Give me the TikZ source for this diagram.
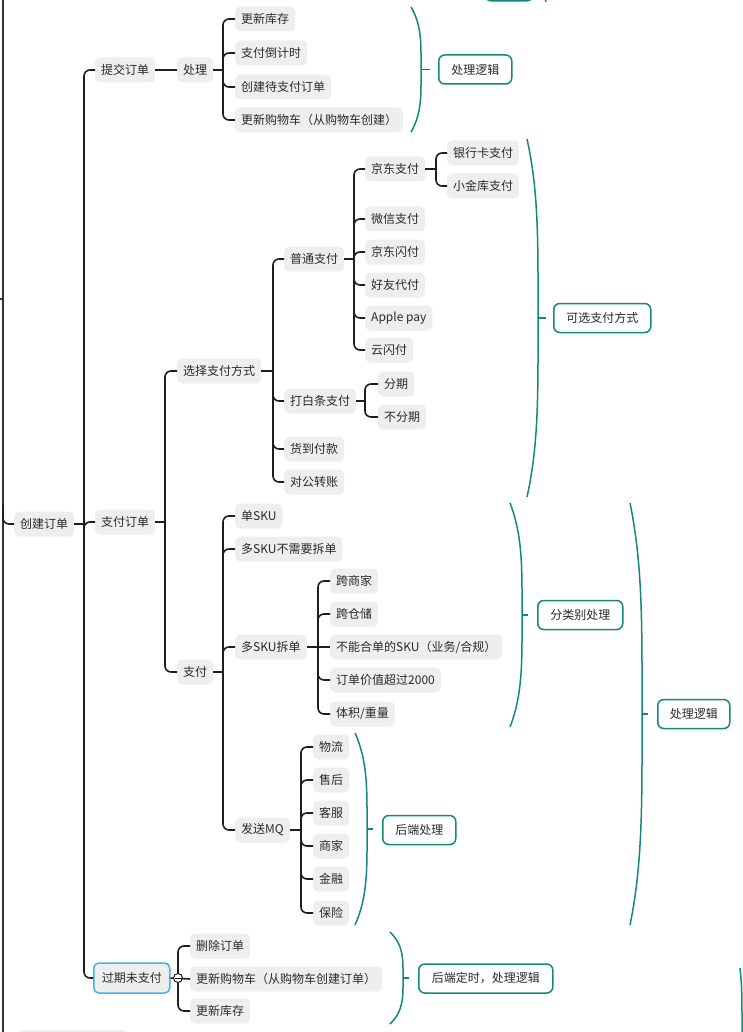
\documentclass[tikz,border=0pt]{standalone}
\usepackage{fontspec}
\setmainfont{Noto Sans CJK SC}
\definecolor{boxgray}{HTML}{EEEEEE}
\definecolor{tealc}{HTML}{12897B}
\definecolor{bluec}{HTML}{40B4F0}
\definecolor{txt}{HTML}{2A2A2A}
\definecolor{linec}{HTML}{1E1E1E}
\tikzset{
  topic/.style={fill=boxgray, rounded corners=5pt, anchor=west, inner xsep=6pt, inner ysep=0pt,
    minimum height=25pt, text=txt, font=\fontsize{12pt}{14pt}\selectfont},
  lbox/.style={draw=tealc, line width=1.5pt, fill=white, rounded corners=6pt, anchor=west,
    minimum height=29pt, inner xsep=0pt, inner ysep=0pt, text=txt, font=\fontsize{12pt}{14pt}\selectfont},
  conn/.style={draw=linec, line width=1.6pt, rounded corners=6pt},
  brace/.style={draw=tealc, line width=1.5pt},
}
\newcommand\fan[3]{%
  \draw[conn] (#1.east) -- (#1.east -| #2);
  \foreach \c in {#3} { \draw[conn] (#1.east -| #2) |- (\c.west); }
}
\newcommand\tbr[5]{% x0, ytop, ybot, xbulge, xtip
  \pgfmathsetmacro\hh{#3-#2}%
  \pgfmathsetmacro\ym{(#2+#3)/2}%
  \draw[brace] (#1,#2) .. controls ({#4+1},{#2+0.15*\hh}) and (#4,{#2+0.3*\hh}) .. (#4,\ym)
     .. controls (#4,{#3-0.3*\hh}) and ({#4+1},{#3-0.15*\hh}) .. (#1,#3);
  \draw[brace] (#4,\ym) -- (#5,\ym);
}
\begin{document}
\begin{tikzpicture}[x=1pt,y=-1pt]
\useasboundingbox (0,0) rectangle (742,1032);
% partial items at the edges
\draw[tealc, line width=1.5pt, fill=white, rounded corners=6pt] (485,-30) rectangle (533,0.8);
\draw[brace] (543,-8) .. controls (545,-2) .. (546,2);
\draw[brace] (740,968) .. controls (742,990) .. (742,1032);
\fill[boxgray, rounded corners=5pt] (18,1030) rectangle (128,1060);
\draw[linec!90, line width=1.5pt] (3,-2) -- (3,1034);
\draw[linec!90, line width=1.5pt] (0,299) -- (3,299);

% spine coordinates
\coordinate (s0) at (84,0);
\coordinate (sA) at (223,0);
\coordinate (sB) at (165,0);
\coordinate (sB0) at (273,0);
\coordinate (sB1) at (354,0);
\coordinate (sB11) at (436,0);
\coordinate (sB2) at (365,0);
\coordinate (sC) at (223,0);
\coordinate (sC3) at (318,0);
\coordinate (sC4) at (301,0);
\coordinate (sD) at (178,0);

% nodes
\node[topic] (root) at (14,524) {创建订单};
\node[topic] (n1) at (95,70) {提交订单};
\node[topic] (n2) at (95,522) {支付订单};
\node[topic, draw=bluec, line width=1.5pt, minimum width=76pt, minimum height=30pt] (n3) at (93,978) {过期未支付};

\node[topic] (a) at (177,70) {处理};
\node[topic] (a1) at (235,19) {更新库存};
\node[topic] (a2) at (235,53) {支付倒计时};
\node[topic] (a3) at (235,87) {创建待支付订单};
\node[topic] (a4) at (235,120) {更新购物车（从购物车创建）};

\node[topic] (b) at (177,371) {选择支付方式};
\node[topic] (b1) at (284,259) {普通支付};
\node[topic] (b2) at (284,401) {打白条支付};
\node[topic] (b3) at (284,449) {货到付款};
\node[topic] (b4) at (284,482) {对公转账};
\node[topic] (p1) at (365,169) {京东支付};
\node[topic] (p2) at (365,219) {微信支付};
\node[topic] (p3) at (365,252) {京东闪付};
\node[topic] (p4) at (365,285) {好友代付};
\node[topic] (p5) at (365,318) {Apple pay};
\node[topic] (p6) at (365,350) {云闪付};
\node[topic] (q1) at (447,153) {银行卡支付};
\node[topic] (q2) at (447,186) {小金库支付};
\node[topic] (r1) at (378,384) {分期};
\node[topic] (r2) at (378,417) {不分期};

\node[topic] (c) at (177,672) {支付};
\node[topic] (c1) at (235,516) {单SKU};
\node[topic] (c2) at (235,549) {多SKU不需要拆单};
\node[topic] (c3) at (235,647) {多SKU拆单};
\node[topic] (c4) at (235,830) {发送MQ};
\node[topic] (e1) at (330,581) {跨商家};
\node[topic] (e2) at (330,614) {跨仓储};
\node[topic] (e3) at (330,647) {不能合单的SKU（业务/合规）};
\node[topic] (e4) at (330,680) {订单价值超过2000};
\node[topic] (e5) at (330,714) {体积/重量};
\node[topic] (f1) at (313,747) {物流};
\node[topic] (f2) at (313,780) {售后};
\node[topic] (f3) at (313,813) {客服};
\node[topic] (f4) at (313,846) {商家};
\node[topic] (f5) at (313,879) {金融};
\node[topic] (f6) at (313,913) {保险};

\node[topic] (d1) at (190,946) {删除订单};
\node[topic] (d2) at (190,979) {更新购物车（从购物车创建订单）};
\node[topic] (d3) at (190,1011) {更新库存};

% connectors
\draw[conn] (3,505) |- (root.west);
\fan{root}{s0}{n1,n2,n3}
\draw[conn] (n1) -- (a);
\fan{a}{sA}{a1,a2,a3,a4}
\fan{n2}{sB}{b,c}
\fan{b}{sB0}{b1,b2,b3,b4}
\fan{b1}{sB1}{p1,p2,p3,p4,p5,p6}
\fan{p1}{sB11}{q1,q2}
\fan{b2}{sB2}{r1,r2}
\fan{c}{sC}{c1,c2,c3,c4}
\fan{c3}{sC3}{e1,e2,e4,e5}
\draw[conn] (c3) -- (e3);
\fan{c4}{sC4}{f1,f2,f3,f4,f5,f6}
\draw[conn] (n3.east) -- (d2.west);
\draw[conn] (n3.east -| sD) |- (d1.west);
\draw[conn] (n3.east -| sD) |- (d3.west);
\node[circle, draw=linec, fill=white, line width=1pt, inner sep=0pt, minimum size=9pt] (col) at (178,978) {};
\draw[linec, line width=1pt] (174.5,978) -- (181.5,978);

% summary braces and labels
\tbr{411}{7}{132}{421}{430}
\node[lbox, minimum width=73pt] (L1) at (438,69.5) {处理逻辑};
\tbr{527}{139}{497}{538}{546}
\node[lbox, minimum width=97pt] (L2) at (553,318) {可选支付方式};
\tbr{510}{503}{727}{522}{528}
\node[lbox, minimum width=85pt] (L3) at (537,615) {分类别处理};
\tbr{630}{503}{925}{642}{648}
\node[lbox, minimum width=72pt] (L4) at (657,714) {处理逻辑};
\tbr{355}{733}{925}{367}{373}
\node[lbox, minimum width=73pt] (L5) at (382,830) {后端处理};
\tbr{390}{932}{1024}{403}{409}
\node[lbox, minimum width=134pt] (L6) at (418,978.5) {后端定时，处理逻辑};
\end{tikzpicture}
\end{document}
